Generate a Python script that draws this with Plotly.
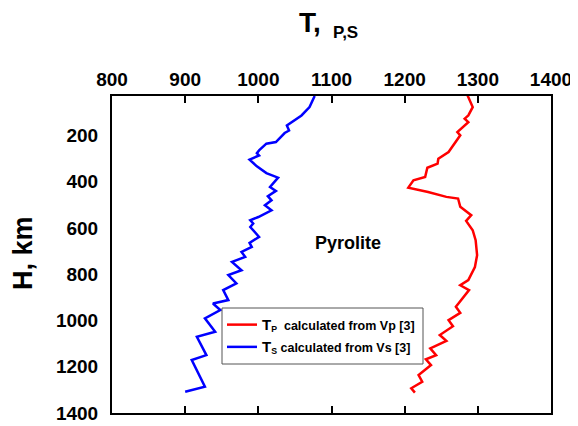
import plotly.graph_objects as go

# Depth (km) and temperature values
blue_h = [30, 78, 114, 157, 179, 190, 229, 236, 265, 277, 287, 305, 334, 363, 383, 423, 440, 463, 481, 502,
          524, 553, 567, 581, 596, 639, 665, 682, 704, 725, 747, 783, 804, 840, 869, 912, 927, 955, 991, 1049,
          1071, 1150, 1171, 1286, 1308]
blue_t = [1077, 1070, 1059, 1039, 1042, 1036, 1024, 1011, 1001, 998, 1001, 988, 998, 1011, 1027, 1016, 1024, 1013, 1018, 1009,
          1018, 1000, 989, 993, 989, 1001, 988, 991, 977, 982, 964, 977, 959, 970, 952, 959, 938, 948, 927, 941,
          916, 929, 909, 927, 900]

red_h = [28, 78, 114, 128, 143, 186, 200, 229, 272, 301, 322, 340, 380, 394, 426, 445, 466, 473, 509, 545,
         570, 610, 653, 718, 769, 826, 848, 869, 941, 967, 999, 1025, 1063, 1088, 1121, 1150, 1168, 1193, 1236, 1265,
         1293, 1312]
red_t = [1286, 1293, 1287, 1282, 1287, 1272, 1276, 1270, 1260, 1246, 1245, 1231, 1228, 1212, 1205, 1232, 1257, 1273, 1276, 1291,
         1284, 1293, 1297, 1299, 1296, 1287, 1276, 1288, 1270, 1276, 1260, 1266, 1248, 1257, 1235, 1243, 1229, 1236, 1219, 1224,
         1209, 1214]

x_ticks = [800, 900, 1000, 1100, 1200, 1300, 1400]
y_ticks = [200, 400, 600, 800, 1000, 1200, 1400]

FONT = "Liberation Sans, Arial, sans-serif"
OFF = 8  # default body margin of the html page
W, H = 578 - OFF, 426 - OFF
pl, pr, pt, pb = 112 - OFF, 551 - OFF, 96 - OFF, 413 - OFF

def px2paper_x(px):
    return (px - OFF - pl) / (pr - pl)

def px2paper_y(py):
    return (pb - (py - OFF)) / (pb - pt)

fig = go.Figure()
fig.add_trace(go.Scatter(x=red_t, y=red_h, mode="lines", legendgroup="p",
                         line=dict(color="#ff0000", width=2.5),
                         name="<span style='font-size:15px'>T</span><sub>P</sub>  calculated from Vp [3]"))
fig.add_trace(go.Scatter(x=blue_t, y=blue_h, mode="lines", legendgroup="s",
                         line=dict(color="#0000ff", width=2.5),
                         name="<span style='font-size:15px'>T</span><sub>S</sub> calculated from Vs [3]"))

fig.update_layout(
    width=W, height=H,
    margin=dict(l=pl, r=W - pr, t=pt, b=H - pb),
    paper_bgcolor="white", plot_bgcolor="white",
    font=dict(family=FONT, color="black"),
    showlegend=True,
    legend=dict(x=px2paper_x(222), y=px2paper_y(310), xanchor="left", yanchor="top",
                bgcolor="rgba(0,0,0,0)", borderwidth=0,
                font=dict(size=12.5, family=FONT, weight="bold"),
                tracegroupgap=3, itemwidth=30),
    shapes=[
        dict(type="rect", xref="paper", yref="paper",
             x0=px2paper_x(222), x1=px2paper_x(423), y0=px2paper_y(364), y1=px2paper_y(308),
             fillcolor="white", line=dict(color="#555555", width=1), layer="above"),
    ],
    xaxis=dict(range=[800, 1400], side="top", tickvals=x_ticks,
               ticks="inside", ticklen=7, tickwidth=1.5, tickcolor="black",
               showline=True, linecolor="black", linewidth=2, mirror="ticks",
               showgrid=False, zeroline=False, automargin=False,
               tickfont=dict(size=19, family=FONT, weight="bold")),
    yaxis=dict(range=[1400, 30], tickvals=y_ticks,
               ticks="", showline=True, linecolor="black", linewidth=2, mirror=True,
               showgrid=False, zeroline=False, ticklabelstandoff=8, automargin=False,
               tickfont=dict(size=19, family=FONT, weight="bold")),
    annotations=[
        dict(text="T,", x=px2paper_x(297), y=px2paper_y(40), xref="paper", yref="paper",
             showarrow=False, xanchor="left", yanchor="bottom",
             font=dict(size=28, family=FONT, weight="bold")),
        dict(text="P,S", x=px2paper_x(331), y=px2paper_y(44), xref="paper", yref="paper",
             showarrow=False, xanchor="left", yanchor="bottom",
             font=dict(size=17, family=FONT, weight="bold")),
        dict(text="H, km", x=px2paper_x(23), y=px2paper_y(253), xref="paper", yref="paper",
             showarrow=False, textangle=-90, xanchor="center", yanchor="middle",
             font=dict(size=27, family=FONT, weight="bold")),
        dict(text="Pyrolite", x=1122, y=666, xref="x", yref="y", showarrow=False,
             font=dict(size=18, family=FONT, weight="bold")),
    ],
)

fig.write_html("out.html")
